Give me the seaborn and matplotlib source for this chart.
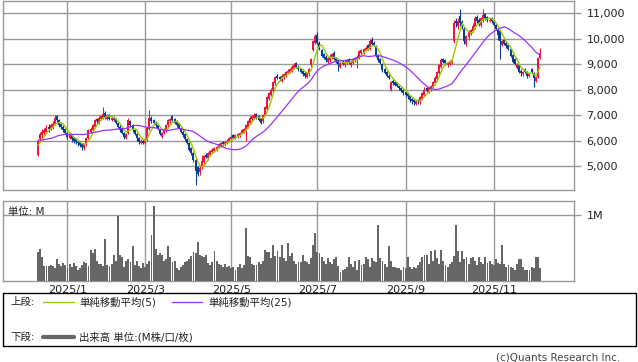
import pandas as pd
import matplotlib
matplotlib.use("Agg")
import matplotlib.pyplot as plt
import seaborn as sns
from matplotlib.lines import Line2D
from matplotlib.patches import Rectangle

# TSE holidays inside the window (trading days only are plotted)
holidays = ["2024-12-31", "2025-01-01", "2025-01-02", "2025-01-03", "2025-01-13",
            "2025-02-11", "2025-02-24", "2025-03-20", "2025-04-29", "2025-05-05",
            "2025-05-06", "2025-07-21", "2025-08-11", "2025-09-15", "2025-09-23",
            "2025-10-13", "2025-11-03", "2025-11-24"]
dates = pd.bdate_range("2024-12-11", "2025-12-05", freq="C", holidays=holidays)

# closes before the visible window, only used to warm up the moving averages
hist_close = [6100, 6150, 6050, 6000, 6100, 6200, 6150, 6050, 5950, 6000,
              6100, 6050, 6000, 6150, 6100, 6050, 6000, 5950, 6050, 5900,
              5800, 5750, 5800, 5800]

open_ = [5450, 6050, 6200, 6300, 6350, 6550, 6450, 6550, 6650, 6950,
         6800, 6650, 6550, 6450, 6300, 6100, 6200, 6100, 6050, 5950,
         5950, 5850, 5700, 5850, 6100, 6350, 6400, 6550, 6850, 6700,
         6850, 6900, 7100, 6850, 7000, 6800, 6900, 6850, 6700, 6550,
         6450, 6300, 6100, 6300, 6750, 6600, 6400, 6250, 6100, 5900,
         6000, 5900, 6050, 6450, 6900, 6800, 6700, 6600, 6400, 6150,
         6300, 6400, 6600, 6750, 6950, 6850, 6750, 6650, 6500, 6350,
         6250, 6050, 5900, 5700, 5500, 5250, 4950, 4750, 4950, 5150,
         5450, 5300, 5450, 5550, 5600, 5650, 5750, 5800, 5950, 5850,
         5900, 6000, 6050, 6200, 6100, 6150, 6200, 6300, 6350, 6400,
         6550, 6700, 6850, 6900, 7050, 6950, 6850, 6750, 7000, 7250,
         7650, 7800, 7950, 8250, 8550, 8500, 8350, 8450, 8550, 8650,
         8700, 8750, 8850, 9050, 8900, 8800, 8750, 8650, 8500, 8600,
         8950, 9550, 9850, 10150, 9850, 9550, 9400, 9300, 9100, 9150,
         9250, 9450, 9250, 9150, 8900, 9100, 8950, 9050, 9200, 8950,
         9050, 9150, 9200, 9250, 9450, 9450, 9550, 9750, 9600, 9950,
         9850, 9700, 9350, 9200, 9000, 8800, 8700, 8550, 8000, 8350,
         8300, 8250, 8150, 8050, 8000, 7900, 7850, 7750, 7650, 7600,
         7450, 7600, 7500, 7650, 7800, 8050, 7900, 8000, 8100, 8250,
         8400, 8650, 8900, 9200, 9150, 8950, 9000, 9050, 9900, 10700,
         10500, 10900, 10650, 10400, 9800, 10050, 10200, 10300, 10450, 10850,
         10750, 10550, 10700, 10950, 10850, 10700, 10800, 10700, 10550, 10350,
         10300, 9750, 9950, 9850, 9750, 9600, 9350, 9200, 8850, 8950,
         8750, 8600, 8800, 8700, 8550, 8800, 8650, 8350, 8500, 9250]

close = [6000, 6250, 6350, 6400, 6500, 6450, 6600, 6650, 6900, 6800,
         6600, 6550, 6400, 6300, 6150, 6200, 6050, 6000, 5950, 5900,
         5830, 5750, 5850, 6100, 6400, 6450, 6600, 6800, 6750, 6900,
         6950, 7050, 6900, 7000, 6850, 6900, 6800, 6700, 6550, 6400,
         6300, 6150, 6250, 6800, 6600, 6400, 6250, 6100, 5950, 6000,
         5900, 6050, 6500, 6900, 6750, 6700, 6600, 6450, 6250, 6300,
         6450, 6600, 6800, 6850, 6800, 6700, 6600, 6500, 6350, 6200,
         6050, 5900, 5650, 5500, 5250, 4800, 4700, 4930, 5200, 5400,
         5350, 5500, 5600, 5650, 5700, 5750, 5850, 5900, 5850, 5950,
         6000, 6100, 6150, 6100, 6200, 6250, 6300, 6400, 6450, 6600,
         6750, 6900, 6950, 7000, 6900, 6800, 6700, 7000, 7300, 7700,
         7850, 8000, 8300, 8500, 8450, 8400, 8550, 8600, 8700, 8750,
         8800, 8900, 8950, 8900, 8800, 8700, 8600, 8550, 8650, 8800,
         9200, 9900, 10100, 9830, 9600, 9330, 9250, 9150, 9250, 9300,
         9400, 9200, 9100, 9000, 9050, 9000, 9100, 9150, 9050, 9100,
         9200, 9250, 9300, 9500, 9550, 9600, 9650, 9600, 9900, 9800,
         9750, 9330, 9150, 9050, 8770, 8650, 8550, 8450, 8300, 8250,
         8200, 8150, 8050, 7950, 7850, 7800, 7750, 7600, 7550, 7500,
         7550, 7550, 7700, 7850, 8000, 7950, 8050, 8150, 8300, 8450,
         8700, 8950, 9150, 9100, 9050, 9050, 9100, 9150, 10600, 10600,
         10700, 10600, 10500, 9900, 10100, 10300, 10350, 10500, 10800, 10700,
         10600, 10800, 10950, 10800, 10750, 10750, 10700, 10550, 10400, 10150,
         9900, 9900, 9800, 9700, 9600, 9330, 9100, 9000, 8950, 8700,
         8650, 8700, 8700, 8550, 8600, 8700, 8450, 8500, 9250, 9450]

high = [6050, 6350, 6450, 6500, 6600, 6650, 6700, 6750, 7000, 7000,
        6850, 6700, 6600, 6500, 6350, 6300, 6250, 6150, 6100, 6000,
        6000, 5900, 5900, 6150, 6450, 6550, 6650, 6850, 6900, 6950,
        7000, 7300, 7150, 7050, 7050, 6950, 6950, 6900, 6750, 6600,
        6500, 6350, 6300, 6900, 6800, 6650, 6450, 6300, 6150, 6050,
        6050, 6100, 6550, 7200, 6950, 6850, 6750, 6650, 6450, 6350,
        6500, 6650, 6850, 6900, 7000, 6900, 6800, 6700, 6550, 6400,
        6300, 6100, 5950, 5750, 5550, 5300, 5000, 5000, 5450, 5450,
        5500, 5550, 5650, 5700, 5750, 5800, 5900, 5950, 6000, 6000,
        6050, 6150, 6200, 6250, 6250, 6300, 6350, 6450, 6500, 6650,
        6800, 6950, 7000, 7100, 7100, 7000, 6900, 7050, 7350, 7750,
        7900, 8050, 8350, 8550, 8600, 8550, 8600, 8650, 8750, 8800,
        8850, 8950, 9050, 9100, 8950, 8850, 8800, 8700, 8700, 8850,
        9250, 9950, 10200, 10250, 9900, 9600, 9450, 9350, 9300, 9400,
        9450, 9500, 9300, 9200, 9100, 9150, 9150, 9200, 9250, 9150,
        9250, 9300, 9350, 9550, 9600, 9650, 9700, 9800, 10000, 10050,
        9900, 9750, 9400, 9250, 9050, 8850, 8750, 8600, 8350, 8400,
        8350, 8300, 8200, 8100, 8050, 7950, 7900, 7800, 7700, 7650,
        7600, 7650, 7750, 7900, 8100, 8100, 8100, 8200, 8350, 8550,
        8750, 9000, 9250, 9250, 9200, 9100, 9150, 9200, 10750, 10800,
        10800, 11170, 10750, 10450, 10150, 10350, 10400, 10600, 10900, 10950,
        10800, 10850, 11150, 11000, 10900, 10800, 10850, 10750, 10600, 10400,
        10350, 9950, 10000, 9900, 9800, 9650, 9400, 9250, 9050, 9000,
        8800, 8750, 8850, 8750, 8650, 8850, 8700, 8550, 9300, 9650]

low = [5400, 5950, 6100, 6200, 6300, 6350, 6400, 6450, 6600, 6700,
       6550, 6450, 6350, 6250, 6050, 6050, 5950, 5900, 5850, 5800,
       5750, 5650, 5650, 5800, 6050, 6300, 6350, 6500, 6700, 6650,
       6800, 6850, 6850, 6800, 6800, 6750, 6750, 6650, 6500, 6350,
       6250, 6050, 6050, 6250, 6550, 6350, 6200, 6000, 5850, 5850,
       5850, 5850, 6000, 6400, 6700, 6650, 6550, 6400, 6200, 6100,
       6250, 6350, 6550, 6700, 6750, 6650, 6550, 6450, 6300, 6150,
       6000, 5850, 5600, 5450, 5150, 4270, 4600, 4650, 4900, 5100,
       5300, 5250, 5400, 5500, 5550, 5600, 5700, 5750, 5800, 5800,
       5850, 5950, 6000, 6050, 6050, 6100, 6150, 6250, 6300, 6000,
       6500, 6650, 6800, 6850, 6850, 6750, 6650, 6700, 6950, 7200,
       7600, 7750, 7900, 8200, 8400, 8350, 8300, 8400, 8500, 8600,
       8650, 8700, 8800, 8850, 8750, 8650, 8550, 8450, 8450, 8550,
       8900, 9500, 9800, 9800, 9550, 9300, 9200, 9100, 9050, 9100,
       9200, 9150, 9050, 8750, 8850, 8950, 8900, 9000, 9000, 8900,
       9000, 9100, 8850, 9200, 9400, 9400, 9500, 9550, 9550, 9750,
       9700, 9300, 9100, 9000, 8700, 8600, 8500, 8400, 7950, 8200,
       8150, 8100, 8000, 7900, 7800, 7700, 7650, 7500, 7450, 7400,
       7400, 7450, 7450, 7600, 7750, 7900, 7850, 7950, 8050, 8200,
       8350, 8600, 8850, 9050, 8950, 8900, 8950, 9000, 9850, 10450,
       10400, 10500, 10400, 9800, 9700, 9950, 10150, 10250, 10400, 10600,
       10500, 10450, 10650, 10750, 10650, 10650, 10600, 10500, 10350, 9950,
       9200, 9700, 9750, 9650, 9550, 9300, 9050, 8950, 8800, 8650,
       8550, 8550, 8650, 8450, 8500, 8650, 8100, 8300, 8450, 9200]

# volume in millions of shares
volume_m = [0.44, 0.48, 0.37, 0.22, 0.23, 0.22, 0.24, 0.22, 0.20, 0.33,
            0.26, 0.22, 0.27, 0.24, 0.19, 0.25, 0.21, 0.27, 0.22, 0.17,
            0.20, 0.24, 0.29, 0.27, 0.22, 0.47, 0.43, 0.48, 0.30, 0.26,
            0.25, 0.23, 0.64, 0.24, 0.22, 0.26, 0.40, 0.31, 0.99, 0.40,
            0.37, 0.21, 0.30, 0.33, 0.29, 0.53, 0.24, 0.30, 0.23, 0.20,
            0.27, 0.21, 0.25, 0.30, 0.69, 1.13, 0.49, 0.40, 0.42, 0.40,
            0.30, 0.34, 0.53, 0.36, 0.29, 0.31, 0.19, 0.16, 0.21, 0.24,
            0.28, 0.31, 0.34, 0.38, 0.44, 0.42, 0.59, 0.39, 0.38, 0.36,
            0.40, 0.27, 0.24, 0.29, 0.45, 0.31, 0.26, 0.24, 0.21, 0.25,
            0.21, 0.22, 0.19, 0.21, 0.16, 0.21, 0.26, 0.20, 0.24, 0.80,
            0.38, 0.36, 0.26, 0.24, 0.24, 0.29, 0.26, 0.30, 0.47, 0.44,
            0.44, 0.35, 0.55, 0.38, 0.45, 0.36, 0.55, 0.35, 0.31, 0.57,
            0.38, 0.43, 0.31, 0.26, 0.29, 0.29, 0.40, 0.31, 0.29, 0.26,
            0.35, 0.54, 0.72, 0.44, 0.43, 0.36, 0.31, 0.26, 0.35, 0.29,
            0.26, 0.33, 0.36, 0.23, 0.13, 0.16, 0.18, 0.21, 0.36, 0.26,
            0.21, 0.31, 0.17, 0.32, 0.24, 0.26, 0.36, 0.33, 0.21, 0.35,
            0.31, 0.29, 0.84, 0.35, 0.31, 0.26, 0.21, 0.53, 0.31, 0.21,
            0.21, 0.19, 0.19, 0.16, 0.21, 0.19, 0.37, 0.21, 0.18, 0.21,
            0.19, 0.24, 0.28, 0.36, 0.40, 0.40, 0.26, 0.45, 0.31, 0.47,
            0.35, 0.26, 0.47, 0.31, 0.24, 0.21, 0.26, 0.29, 0.38, 0.84,
            0.45, 0.28, 0.45, 0.33, 0.36, 0.26, 0.35, 0.37, 0.30, 0.24,
            0.36, 0.29, 0.26, 0.37, 0.27, 0.31, 0.26, 0.24, 0.33, 0.27,
            0.26, 0.54, 0.26, 0.21, 0.24, 0.21, 0.19, 0.16, 0.26, 0.33,
            0.33, 0.21, 0.17, 0.16, 0.16, 0.21, 0.20, 0.37, 0.36, 0.19]

price_ticks = [5000, 6000, 7000, 8000, 9000, 10000, 11000]
label_months = [1, 3, 5, 7, 9, 11]

UP = "#f0143c"
DOWN = "#0a3c96"
MA5_C = "#99cc00"
MA25_C = "#9933ff"
VOL_C = "#666666"
GRID_C = "#999999"

n = len(close)
df = pd.DataFrame({"date": dates[:n], "open": open_, "high": high, "low": low,
                   "close": close, "volume": volume_m})
df["idx"] = range(n)
all_close = pd.Series(hist_close + close, dtype=float)
df["ma5"] = all_close.rolling(5).mean().iloc[len(hist_close):].values
df["ma25"] = all_close.rolling(25).mean().iloc[len(hist_close):].values
df["up"] = df["close"] >= df["open"]
df["body_lo"] = df[["open", "close"]].min(axis=1)
df["body_h"] = (df["close"] - df["open"]).abs().clip(lower=25)
colors = df["up"].map({True: UP, False: DOWN})

# first trading day of each labelled month
month_idx = []
for m in label_months:
    sel = df[(df["date"].dt.year == 2025) & (df["date"].dt.month == m)]
    month_idx.append(int(sel["idx"].iloc[0]))
month_labels = [f"2025/{m}" for m in label_months]

sns.set_style("white")
plt.rcParams["font.family"] = ["DejaVu Sans", "Noto Sans CJK JP"]

W, H = 638, 362
fig = plt.figure(figsize=(W / 100, H / 100), dpi=100)


def px_axes(left, top, right, bottom):
    return fig.add_axes([left / W, 1 - bottom / H, (right - left) / W, (bottom - top) / H])


ax = px_axes(3, 1, 574, 190)
axv = px_axes(3, 201, 574, 281)
xlim = (-16.7, 255.2)

# ---- price panel ----
ax.vlines(df["idx"], df["low"], df["high"], colors=colors, lw=0.8, zorder=3)
ax.bar(df["idx"], df["body_h"], bottom=df["body_lo"], width=0.95, color=colors,
       linewidth=0, zorder=3)
sns.lineplot(data=df, x="idx", y="ma5", ax=ax, color=MA5_C, lw=1.0, zorder=4)
sns.lineplot(data=df, x="idx", y="ma25", ax=ax, color=MA25_C, lw=0.9, zorder=4)
ax.set_xlim(*xlim)
ax.set_ylim(4060, 11480)
ax.set_yticks(price_ticks)
ax.set_yticklabels([f"{v:,}" for v in price_ticks])
ax.yaxis.tick_right()
ax.set_xticks(month_idx)
ax.set_xticklabels([])
ax.tick_params(axis="x", length=0)
ax.tick_params(axis="y", length=5, width=1, color=GRID_C, labelsize=8, pad=4,
               labelcolor="#222222")
ax.grid(True, color=GRID_C, lw=1)
ax.set_xlabel("")
ax.set_ylabel("")

# ---- volume panel ----
axv.bar(df["idx"], df["volume"], width=0.9, color=VOL_C, linewidth=0, zorder=3)
axv.set_xlim(*xlim)
axv.set_ylim(0, 1.21)
axv.set_yticks([1.0])
axv.set_yticklabels(["1M"])
axv.yaxis.tick_right()
axv.set_xticks(month_idx)
axv.set_xticklabels(month_labels)
axv.tick_params(axis="x", length=0, labelsize=8, pad=3, labelcolor="#222222")
axv.tick_params(axis="y", length=5, width=1, color=GRID_C, labelsize=8, pad=4,
                labelcolor="#222222")
axv.grid(True, color=GRID_C, lw=1)
axv.text(0.008, 0.93, "単位: M", transform=axv.transAxes, ha="left", va="top",
         fontsize=7.5, color="#222222", zorder=5)

for a in (ax, axv):
    for s in a.spines.values():
        s.set_color(GRID_C)
        s.set_linewidth(1)

# ---- legend box ----
fig.add_artist(Rectangle((3 / W, 1 - 346 / H), 633 / W, 53 / H,
                         transform=fig.transFigure, fill=False, ec="black", lw=1))


def fy(py):
    return 1 - py / H


def leg_line(x0, x1, py, color, lw):
    fig.add_artist(Line2D([x0 / W, x1 / W], [fy(py), fy(py)], color=color, lw=lw,
                          transform=fig.transFigure))


txt = dict(fontsize=7.5, va="center", ha="left", color="#222222")
fig.text(10 / W, fy(302), "上段:", **txt)
leg_line(43, 74, 302, MA5_C, 1.0)
fig.text(79 / W, fy(302), "単純移動平均(5)", **txt)
leg_line(172, 202, 302, MA25_C, 1.0)
fig.text(208 / W, fy(302), "単純移動平均(25)", **txt)
fig.text(10 / W, fy(337), "下段:", **txt)
leg_line(43, 74, 337, VOL_C, 3.0)
fig.text(79 / W, fy(337), "出来高 単位:(M株/口/枚)", **txt)

fig.text(620 / W, fy(357), "(c)Quants Research Inc.", fontsize=7.5, va="center",
         ha="right", color="#444444")

fig.savefig("out.png", dpi=100)
